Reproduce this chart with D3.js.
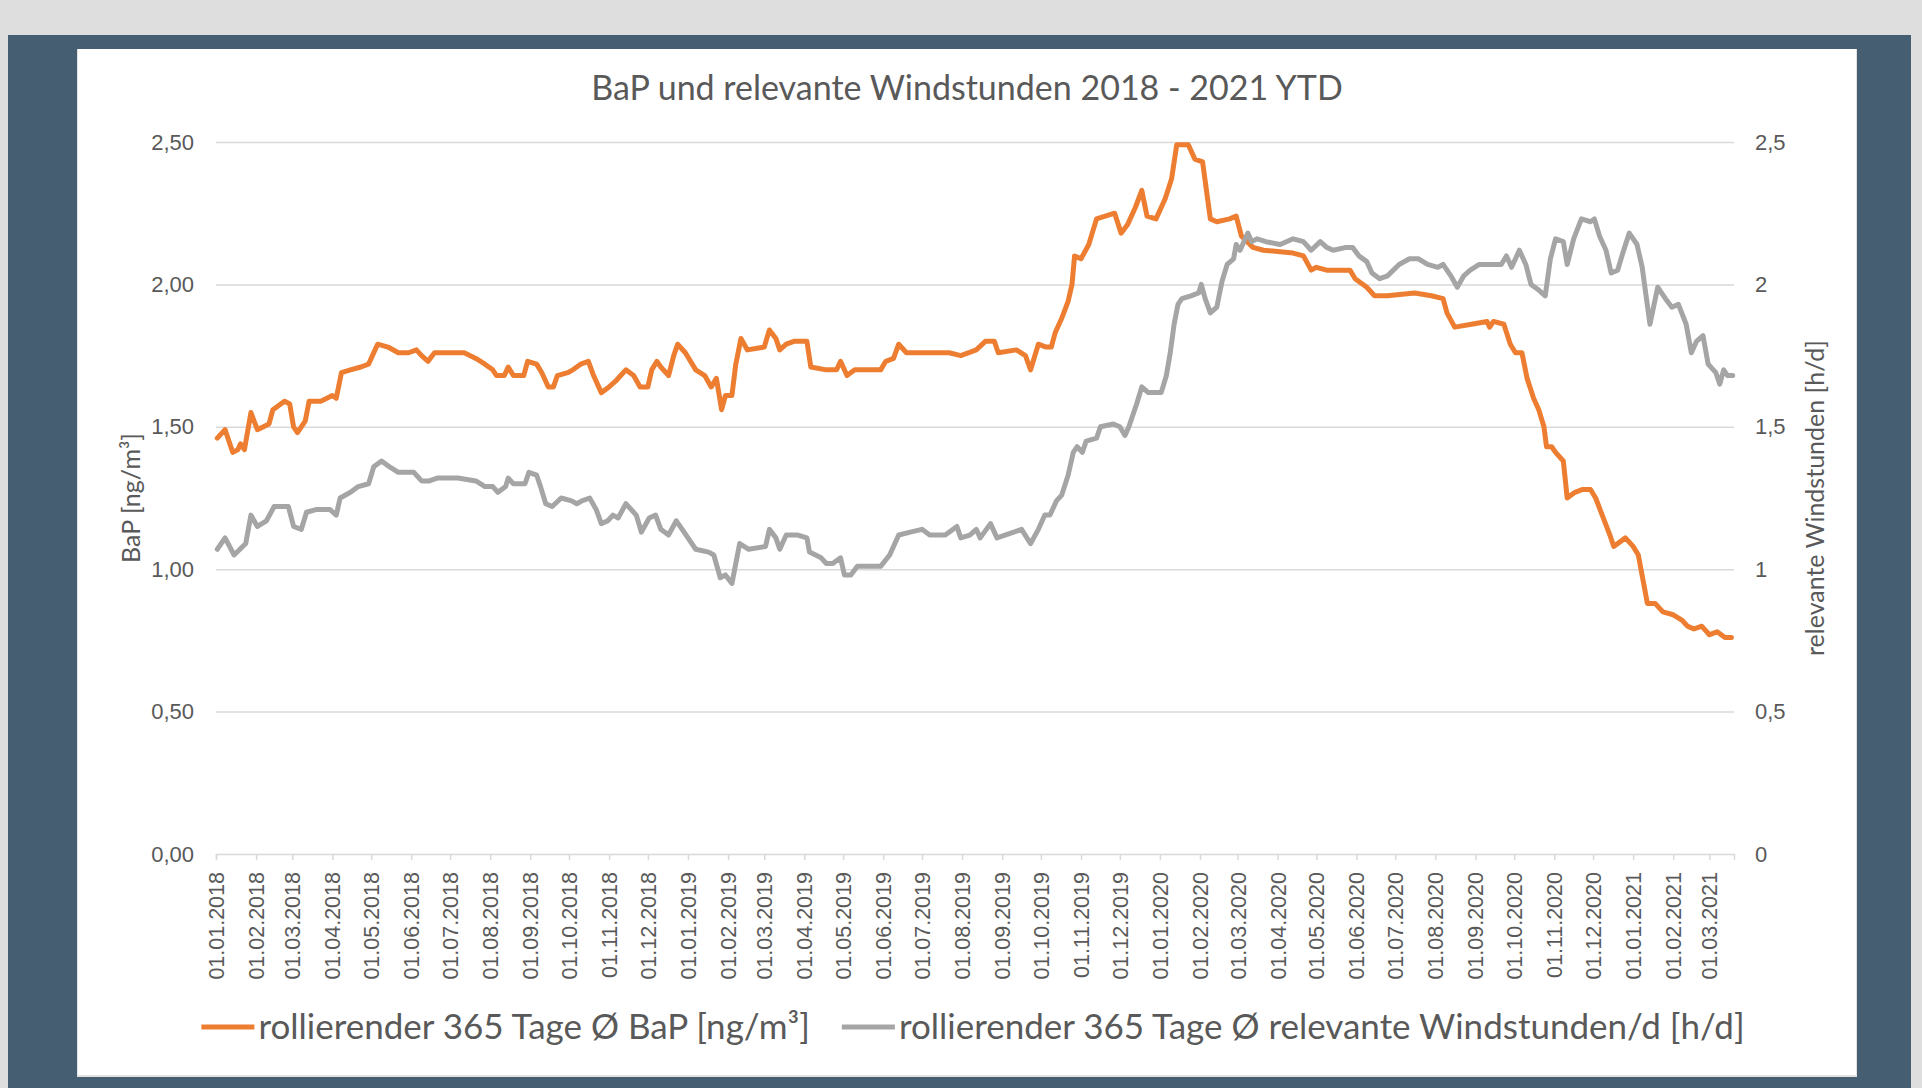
<!DOCTYPE html>
<html>
<head>
<meta charset="utf-8">
<script src="https://cdn.jsdelivr.net/npm/d3@7"></script>
<style>
    html, body { margin: 0; padding: 0; background: #dedede; }
    svg { display: block; font-family: Lato, "Open Sans", sans-serif; }
</style>
</head>
<body>
<svg id="chart" width="1922" height="1088"></svg>
<script>
const chartTitle = 'BaP und relevante Windstunden 2018 - 2021 YTD';
const leftAxisTitle = 'BaP [ng/m³]';
const rightAxisTitle = 'relevante Windstunden [h/d]';
const seriesNames = ['rollierender 365 Tage Ø BaP [ng/m³]', 'rollierender 365 Tage Ø relevante Windstunden/d [h/d]'];
const seriesColors = ['#ed7d31', '#a5a5a5'];
const startDate = '2018-01-01';
const endDate = '2021-03-20';
const leftTicks = [0, 0.5, 1, 1.5, 2, 2.5];
const rightTicks = [0, 0.5, 1, 1.5, 2, 2.5];

// [days since 01.01.2018, rolling mean]
const bapPoints = [
    [1, 1.46], [7, 1.49], [13, 1.41], [17, 1.42], [19, 1.44], [22, 1.42], [27, 1.55], [32, 1.49], [41, 1.51],
    [44, 1.56], [53, 1.59], [57, 1.58], [60, 1.50], [63, 1.48], [69, 1.52], [72, 1.59], [81, 1.59], [90, 1.61],
    [93, 1.60], [97, 1.69], [104, 1.70], [112, 1.71], [118, 1.72], [122, 1.76], [125, 1.79], [133, 1.78],
    [141, 1.76], [149, 1.76], [155, 1.77], [159, 1.75], [164, 1.73], [169, 1.76], [187, 1.76], [192, 1.76],
    [201, 1.74], [208, 1.72], [214, 1.70], [217, 1.68], [223, 1.68], [226, 1.71], [230, 1.68], [238, 1.68],
    [241, 1.73], [248, 1.72], [252, 1.69], [257, 1.64], [261, 1.64], [264, 1.68], [272, 1.69], [276, 1.70],
    [282, 1.72], [288, 1.73], [292, 1.68], [298, 1.62], [304, 1.64], [309, 1.66], [313, 1.68], [317, 1.70],
    [323, 1.68], [328, 1.64], [334, 1.64], [337, 1.70], [341, 1.73], [344, 1.71], [350, 1.68], [354, 1.75],
    [357, 1.79], [363, 1.76], [371, 1.70], [378, 1.68], [383, 1.64], [387, 1.67], [391, 1.56], [394, 1.61],
    [399, 1.61], [402, 1.72], [406, 1.81], [411, 1.77], [424, 1.78], [428, 1.84], [433, 1.81], [436, 1.77],
    [441, 1.79], [447, 1.80], [457, 1.80], [460, 1.71], [472, 1.70], [480, 1.70], [483, 1.73], [488, 1.68],
    [494, 1.70], [514, 1.70], [518, 1.73], [524, 1.74], [528, 1.79], [534, 1.76], [567, 1.76], [576, 1.75],
    [588, 1.77], [595, 1.80], [602, 1.80], [605, 1.76], [619, 1.77], [626, 1.75], [630, 1.70], [636, 1.79],
    [642, 1.78], [646, 1.78], [649, 1.83], [654, 1.88], [659, 1.94], [662, 2.00], [664, 2.10], [669, 2.09],
    [675, 2.14], [681, 2.23], [695, 2.25], [700, 2.18], [705, 2.21], [711, 2.27], [716, 2.33], [720, 2.24],
    [727, 2.23], [734, 2.30], [739, 2.37], [743, 2.49], [752, 2.49], [757, 2.44], [763, 2.43], [769, 2.23],
    [774, 2.22], [784, 2.23], [789, 2.24], [793, 2.17], [802, 2.13], [810, 2.12], [833, 2.11], [841, 2.10],
    [847, 2.05], [851, 2.06], [859, 2.05], [877, 2.05], [881, 2.02], [890, 1.99], [896, 1.96], [906, 1.96],
    [927, 1.97], [940, 1.96], [949, 1.95], [952, 1.90], [958, 1.85], [971, 1.86], [983, 1.87], [985, 1.85],
    [988, 1.87], [996, 1.86], [1001, 1.79], [1005, 1.76], [1010, 1.76], [1014, 1.67], [1019, 1.60],
    [1023, 1.56], [1027, 1.50], [1029, 1.43], [1033, 1.43], [1036, 1.41], [1042, 1.38], [1045, 1.25],
    [1051, 1.27], [1057, 1.28], [1063, 1.28], [1067, 1.25], [1078, 1.12], [1081, 1.08], [1090, 1.11],
    [1096, 1.08], [1100, 1.05], [1107, 0.88], [1113, 0.88], [1119, 0.85], [1127, 0.84], [1134, 0.82],
    [1138, 0.80], [1143, 0.79], [1149, 0.80], [1155, 0.77], [1161, 0.78], [1167, 0.76], [1172, 0.76],
];

const windPoints = [
    [1, 1.07], [7, 1.11], [14, 1.05], [23, 1.09], [27, 1.19], [32, 1.15], [39, 1.17], [45, 1.22], [56, 1.22],
    [60, 1.15], [66, 1.14], [70, 1.20], [78, 1.21], [88, 1.21], [93, 1.19], [96, 1.25], [104, 1.27], [110, 1.29],
    [118, 1.30], [122, 1.36], [128, 1.38], [134, 1.36], [141, 1.34], [153, 1.34], [159, 1.31], [165, 1.31],
    [171, 1.32], [187, 1.32], [201, 1.31], [208, 1.29], [214, 1.29], [218, 1.27], [224, 1.29], [226, 1.32],
    [230, 1.30], [239, 1.30], [242, 1.34], [248, 1.33], [251, 1.29], [255, 1.23], [260, 1.22], [267, 1.25],
    [275, 1.24], [279, 1.23], [283, 1.24], [289, 1.25], [294, 1.21], [298, 1.16], [303, 1.17], [307, 1.19],
    [311, 1.18], [317, 1.23], [325, 1.19], [329, 1.13], [335, 1.18], [340, 1.19], [344, 1.14], [350, 1.12],
    [356, 1.17], [362, 1.13], [371, 1.07], [381, 1.06], [385, 1.05], [390, 0.97], [394, 0.98], [399, 0.95],
    [405, 1.09], [412, 1.07], [425, 1.08], [428, 1.14], [433, 1.11], [436, 1.07], [441, 1.12], [450, 1.12],
    [457, 1.11], [459, 1.06], [468, 1.04], [472, 1.02], [477, 1.02], [483, 1.04], [486, 0.98], [491, 0.98],
    [496, 1.01], [514, 1.01], [521, 1.05], [528, 1.12], [537, 1.13], [546, 1.14], [552, 1.12], [564, 1.12],
    [573, 1.15], [576, 1.11], [583, 1.12], [588, 1.14], [591, 1.11], [599, 1.16], [604, 1.11], [617, 1.13],
    [623, 1.14], [630, 1.09], [636, 1.14], [641, 1.19], [645, 1.19], [650, 1.24], [654, 1.26], [659, 1.33],
    [663, 1.41], [666, 1.43], [670, 1.41], [673, 1.45], [681, 1.46], [684, 1.50], [694, 1.51], [699, 1.50],
    [703, 1.47], [706, 1.50], [712, 1.58], [716, 1.64], [721, 1.62], [731, 1.62], [735, 1.68], [738, 1.76],
    [741, 1.86], [744, 1.93], [747, 1.95], [754, 1.96], [760, 1.97], [762, 2.00], [765, 1.95], [769, 1.90],
    [774, 1.92], [778, 2.01], [782, 2.07], [787, 2.09], [789, 2.14], [792, 2.12], [796, 2.16], [798, 2.18],
    [801, 2.15], [805, 2.16], [812, 2.15], [823, 2.14], [833, 2.16], [841, 2.15], [847, 2.12], [854, 2.15],
    [859, 2.13], [864, 2.12], [874, 2.13], [879, 2.13], [884, 2.10], [890, 2.08], [894, 2.04], [900, 2.02],
    [906, 2.03], [915, 2.07], [923, 2.09], [930, 2.09], [937, 2.07], [945, 2.06], [949, 2.07], [955, 2.03],
    [960, 1.99], [965, 2.03], [970, 2.05], [977, 2.07], [994, 2.07], [998, 2.10], [1002, 2.06], [1008, 2.12],
    [1013, 2.07], [1017, 2.00], [1023, 1.98], [1028, 1.96], [1032, 2.09], [1036, 2.16], [1042, 2.15],
    [1045, 2.07], [1050, 2.16], [1056, 2.23], [1063, 2.22], [1066, 2.23], [1070, 2.17], [1075, 2.12],
    [1079, 2.04], [1084, 2.05], [1088, 2.11], [1093, 2.18], [1099, 2.14], [1103, 2.06], [1109, 1.86],
    [1115, 1.99], [1121, 1.95], [1126, 1.92], [1131, 1.93], [1137, 1.86], [1141, 1.76], [1145, 1.80],
    [1150, 1.82], [1154, 1.72], [1160, 1.69], [1163, 1.65], [1166, 1.70], [1169, 1.68], [1173, 1.68],
];

const textColor = '#595959';
const gridColor = '#d9d9d9';

const deLocale = d3.formatLocale({ decimal: ',', thousands: '.', grouping: [3], currency: ['', ' €'] });
const fmtLeft = deLocale.format('.2f');
const fmtRight = deLocale.format('~g');

const t0 = d3.utcParse('%Y-%m-%d')(startDate);
const t1 = d3.utcParse('%Y-%m-%d')(endDate);
const toDate = (d) => d3.utcDay.offset(t0, d);

const plot = { left: 216, right: 1734, top: 142, bottom: 854 };

const x = d3.scaleUtc().domain([t0, t1]).range([plot.left, plot.right]);
const yLeft = d3.scaleLinear().domain([0, 2.5]).range([plot.bottom, plot.top]);
const yRight = d3.scaleLinear().domain([0, 2.5]).range([plot.bottom, plot.top]);

const svg = d3.select('#chart');

// frame: dark panel with the white chart area on top
svg.append('rect')
    .attr('x', 8).attr('y', 35)
    .attr('width', 1903).attr('height', 1053)
    .attr('fill', '#465e72');

svg.append('rect')
    .attr('x', 77).attr('y', 49)
    .attr('width', 1780).attr('height', 1028)
    .attr('fill', '#e2e2e2');

svg.append('rect')
    .attr('x', 78).attr('y', 49)
    .attr('width', 1778).attr('height', 1026)
    .attr('fill', '#ffffff');

svg.append('text')
    .attr('x', 967)
    .attr('y', 100)
    .attr('text-anchor', 'middle')
    .attr('font-size', 34)
    .attr('fill', textColor)
    .text(chartTitle);

// horizontal gridlines
svg.append('g')
    .attr('transform', `translate(${plot.left},0)`)
    .call(d3.axisLeft(yLeft).tickValues(leftTicks.slice(1)).tickSize(-(plot.right - plot.left)).tickFormat(''))
    .call((g) =>
    {
        g.select('.domain').remove();
        g.selectAll('line').attr('stroke', gridColor).attr('stroke-width', 1.5);
    });

const leftAxis = svg.append('g')
    .attr('transform', `translate(${plot.left},0)`)
    .call(d3.axisLeft(yLeft).tickValues(leftTicks).tickSize(0).tickPadding(22).tickFormat(fmtLeft));
leftAxis.select('.domain').remove();
leftAxis.selectAll('text').attr('font-size', 22).attr('font-family', null).attr('fill', textColor);

const rightAxis = svg.append('g')
    .attr('transform', `translate(${plot.right},0)`)
    .call(d3.axisRight(yRight).tickValues(rightTicks).tickSize(0).tickPadding(21).tickFormat(fmtRight));
rightAxis.select('.domain').remove();
rightAxis.selectAll('text').attr('font-size', 22).attr('font-family', null).attr('fill', textColor);

const xAxis = svg.append('g')
    .attr('transform', `translate(0,${plot.bottom})`)
    .call(d3.axisBottom(x).ticks(d3.utcMonth.every(1)).tickSize(6).tickFormat(d3.utcFormat('%d.%m.%Y')));
xAxis.select('.domain').attr('stroke', gridColor).attr('stroke-width', 1.5);
xAxis.selectAll('line').attr('stroke', gridColor).attr('stroke-width', 1.5);
xAxis.selectAll('text')
    .attr('font-size', 21.5)
    .attr('font-family', null)
    .attr('fill', textColor)
    .attr('transform', 'rotate(-90)')
    .attr('text-anchor', 'end')
    .attr('x', -18)
    .attr('y', 0)
    .attr('dy', '0.35em');

svg.append('text')
    .attr('transform', `translate(131,${(plot.top + plot.bottom) / 2}) rotate(-90)`)
    .attr('text-anchor', 'middle')
    .attr('dy', '0.35em')
    .attr('font-size', 25)
    .attr('fill', textColor)
    .text(leftAxisTitle);

svg.append('text')
    .attr('transform', `translate(1815,${(plot.top + plot.bottom) / 2}) rotate(-90)`)
    .attr('text-anchor', 'middle')
    .attr('dy', '0.35em')
    .attr('font-size', 25)
    .attr('fill', textColor)
    .text(rightAxisTitle);

const bapLine = d3.line()
    .x((d) => x(toDate(d[0])))
    .y((d) => yLeft(d[1]));

const windLine = d3.line()
    .x((d) => x(toDate(d[0])))
    .y((d) => yRight(d[1]));

svg.append('path')
    .datum(bapPoints)
    .attr('d', bapLine)
    .attr('fill', 'none')
    .attr('stroke', seriesColors[0])
    .attr('stroke-width', 5)
    .attr('stroke-linejoin', 'round')
    .attr('stroke-linecap', 'round');

svg.append('path')
    .datum(windPoints)
    .attr('d', windLine)
    .attr('fill', 'none')
    .attr('stroke', seriesColors[1])
    .attr('stroke-width', 5)
    .attr('stroke-linejoin', 'round')
    .attr('stroke-linecap', 'round');

// legend, centred under the chart
const legendY = 1027;
const swatch = 53;
const legend = svg.append('g');
let cursor = 0;
seriesNames.forEach((name, i) =>
{
    const item = legend.append('g').attr('transform', `translate(${cursor},0)`);
    item.append('line')
        .attr('x1', 0).attr('x2', swatch)
        .attr('y1', 0).attr('y2', 0)
        .attr('stroke', seriesColors[i])
        .attr('stroke-width', 5);
    const label = item.append('text')
        .attr('x', swatch + 4)
        .attr('dy', '0.35em')
        .attr('font-size', 35)
        .attr('fill', textColor)
        .text(name);
    cursor += swatch + 4 + label.node().getComputedTextLength() + 32;
});
const legendWidth = cursor - 32;
legend.attr('transform', `translate(${973 - legendWidth / 2},${legendY})`);
</script>
</body>
</html>
